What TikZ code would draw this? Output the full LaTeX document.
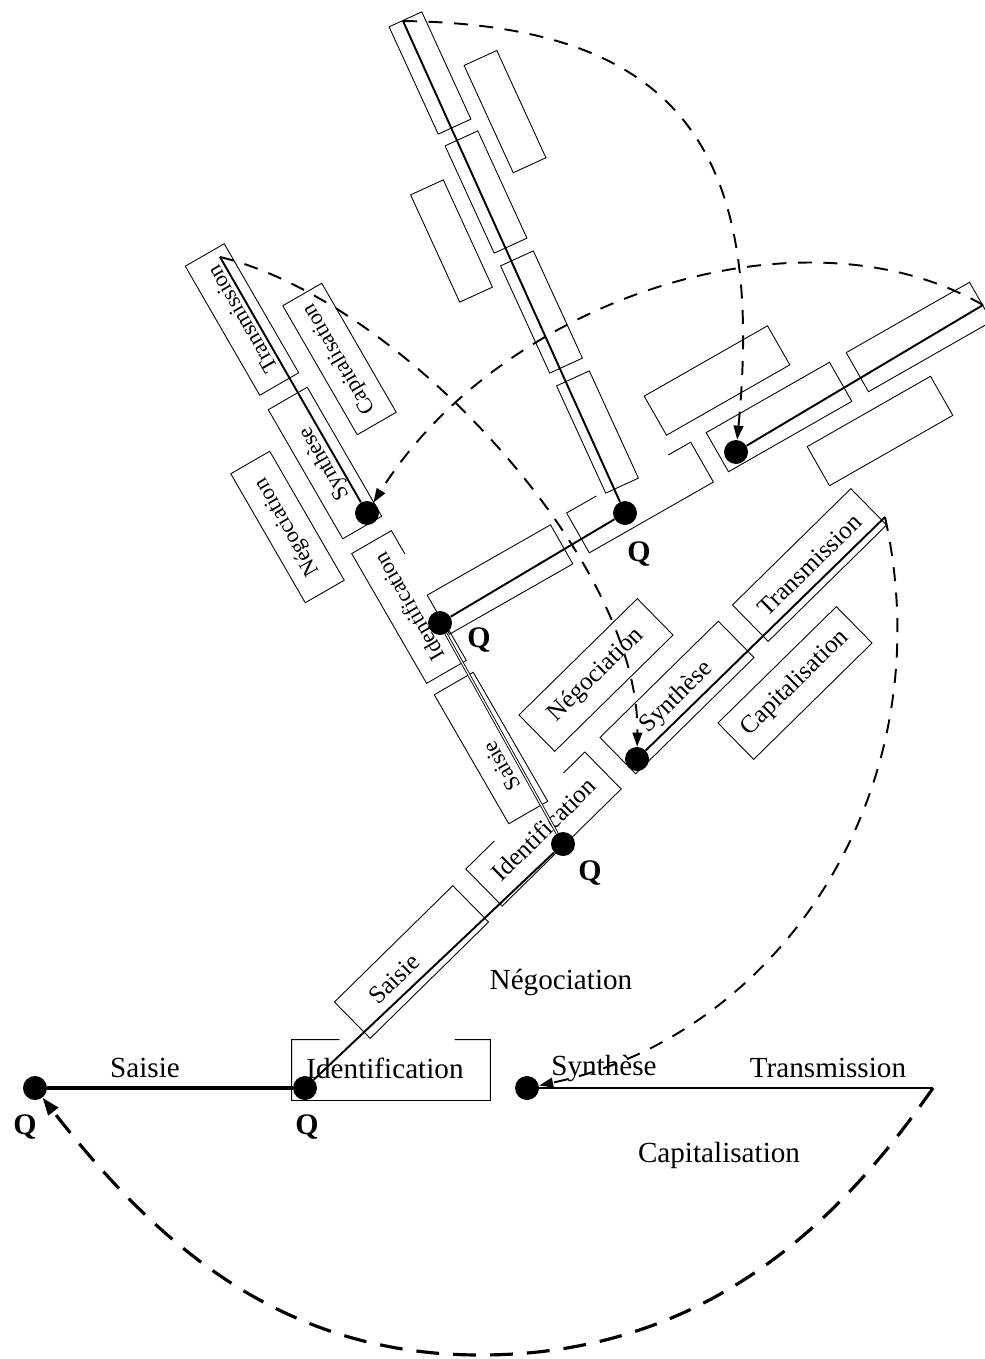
\documentclass[tikz,border=0pt]{standalone}
\usepackage{fontspec}
\setmainfont{Liberation Serif}
\usetikzlibrary{arrows.meta,calc}

\tikzset{
  boxline/.style={line width=0.5pt},
  box/.style={draw,boxline,rectangle,inner sep=0pt},
  lvA/.style={box,rotate=44.5,minimum width=3.32cm,minimum height=1.02cm,font=\fontsize{14.3}{16}\selectfont},
  lvB/.style={box,rotate=120,minimum width=2.98cm,minimum height=0.9cm,font=\fontsize{12.7}{15}\selectfont},
  lvC/.style={box,rotate=29.7,minimum width=2.84cm,minimum height=0.9cm},
  lvD/.style={box,rotate=114.6,minimum width=2.36cm,minimum height=0.72cm},
  dot/.style={circle,fill,inner sep=0pt,minimum size=0.48cm},
  qlab/.style={font=\fontsize{17}{20}\selectfont\bfseries},
  lab/.style={font=\fontsize{16.6}{20}\selectfont},
  stem/.style={line width=1.1pt},
  twin/.style={line width=0.5pt,double,double distance=0.7pt},
  flow/.style={line width=1.1pt,dash pattern=on 8pt off 6.5pt,-{Triangle[length=8pt,width=5.5pt]}},
  bigflow/.style={line width=1.8pt,dash pattern=on 13pt off 8pt,-{Triangle[length=10pt,width=7pt]}}
}

% box outline with a hidden piece on one long side
\newcommand{\gapnorth}[1]{\draw[boxline] ($(#1.north west)!0.24!(#1.north east)$) -- (#1.north west) -- (#1.south west) -- (#1.south east) -- (#1.north east) -- ($(#1.north west)!0.82!(#1.north east)$);}
\newcommand{\gapsouth}[1]{\draw[boxline] ($(#1.south west)!0.26!(#1.south east)$) -- (#1.south west) -- (#1.north west) -- (#1.north east) -- (#1.south east) -- ($(#1.south west)!0.82!(#1.south east)$);}

\begin{document}
\begin{tikzpicture}[x=0.02cm,y=-0.02cm]
  \useasboundingbox (0,0) rectangle (984,1359);

  % level 0
  \node[dot] (q0a) at (35,1088) {};
  \node[dot] (q0b) at (305,1088) {};
  \node[dot] (s0) at (527,1088) {};
  \coordinate (t0) at (933,1088);
  \node[box,draw=none,minimum width=3.96cm,minimum height=1.2cm] (ide0) at (391,1070) {};
  \gapnorth{ide0}
  \node[lab] (sai0) at (145,1068) {Saisie};
  \node[lab] (idt0) at (385,1068) {Identification};
  \node[lab] (syn0) at (604,1068) {Synthèse};
  \node[lab] (tra0) at (828,1068) {Transmission};
  \node[lab] (neg0) at (561,982) {Négociation};
  \node[lab] (cap0) at (719,1155) {Capitalisation};
  \node[qlab] (qa0) at (25,1127) {Q};
  \node[qlab] (qb0) at (307,1127) {Q};

  % level 1
  \node[lvA] (sai1) at (411.5,962) {Saisie\kern0.96cm};
  \node[lvA,draw=none] (ide1) at (543.5,829) {Identification};
  \gapnorth{ide1}
  \node[lvA] (syn1) at (677,697.5) {Synthèse};
  \node[lvA] (tra1) at (809.5,565) {Transmission};
  \node[lvA] (neg1) at (596,675) {Négociation};
  \node[lvA] (cap1) at (795,683) {Capitalisation};
  \node[dot] (q1b) at (563,844) {};
  \node[dot] (s1) at (637,759) {};
  \coordinate (t1) at (885,517);
  \node[qlab] (qb1) at (590,873) {Q};

  % level 2
  \node[lvB] (sai2) at (491,748) {Saisie\kern0.84cm};
  \node[lvB,draw=none] (ide2) at (409,607) {Identification};
  \gapsouth{ide2}
  \node[lvB] (syn2) at (325,463) {Synthèse};
  \node[lvB] (tra2) at (242,319.5) {Transmission};
  \node[lvB] (neg2) at (287.5,527) {Négociation};
  \node[lvB] (cap2) at (339.5,359) {Capitalisation};
  \node[dot] (q2b) at (440,623) {};
  \node[dot] (s2) at (367,513) {};
  \coordinate (t2) at (220,257);
  \node[qlab] (qb2) at (479,640) {Q};

  % level 3
  \node[lvC] (sai3) at (500,579.5) {};
  \node[lvC,draw=none] (ide3) at (640,497.5) {};
  \gapnorth{ide3}
  \node[lvC] (syn3) at (779,417) {};
  \node[lvC] (tra3) at (919,337) {};
  \node[lvC] (neg3) at (717,380.5) {};
  \node[lvC] (cap3) at (880,431) {};
  \node[dot] (q3b) at (625,513) {};
  \node[dot] (s3) at (736,452) {};
  \coordinate (t3) at (983,305);
  \node[qlab] (qb3) at (639,554) {Q};

  % level 4
  \node[lvD] (sai4) at (597.5,432) {};
  \node[lvD] (ide4) at (541.5,312) {};
  \node[lvD] (syn4) at (486,192) {};
  \node[lvD] (tra4) at (430,73) {};
  \node[lvD] (neg4) at (451.5,241) {};
  \node[lvD] (cap4) at (505,111.6) {};
  \coordinate (t4) at (403,21);

  % stems
  \draw[line width=2.6pt] (q0a) -- (q0b);
  \draw[line width=1.4pt] (s0) -- (t0);
  \draw[stem] (q0b) -- (q1b);
  \draw[stem] (s1) -- (t1);
  \draw[twin] (q1b) -- (q2b);
  \draw[stem] (s2) -- (t2);
  \draw[stem] (q2b) -- (q3b);
  \draw[stem] (s3) -- (t3);
  \draw[stem] (q3b) -- (t4);

  % loops back
  \draw[bigflow] (t0) .. controls (835,1229) and (700,1355) .. (480,1355)
                      .. controls (280,1355) and (155,1242) .. (q0a);
  \draw[flow] (t1) .. controls (945,790) and (780,1035) .. (s0);
  \draw[flow] (t2) .. controls (400,300) and (640,560) .. (s1);
  \draw[flow] (t3) .. controls (800,200) and (500,300) .. (s2);
  \draw[flow] (t4) .. controls (680,25) and (765,150) .. (s3);
\end{tikzpicture}
\end{document}
